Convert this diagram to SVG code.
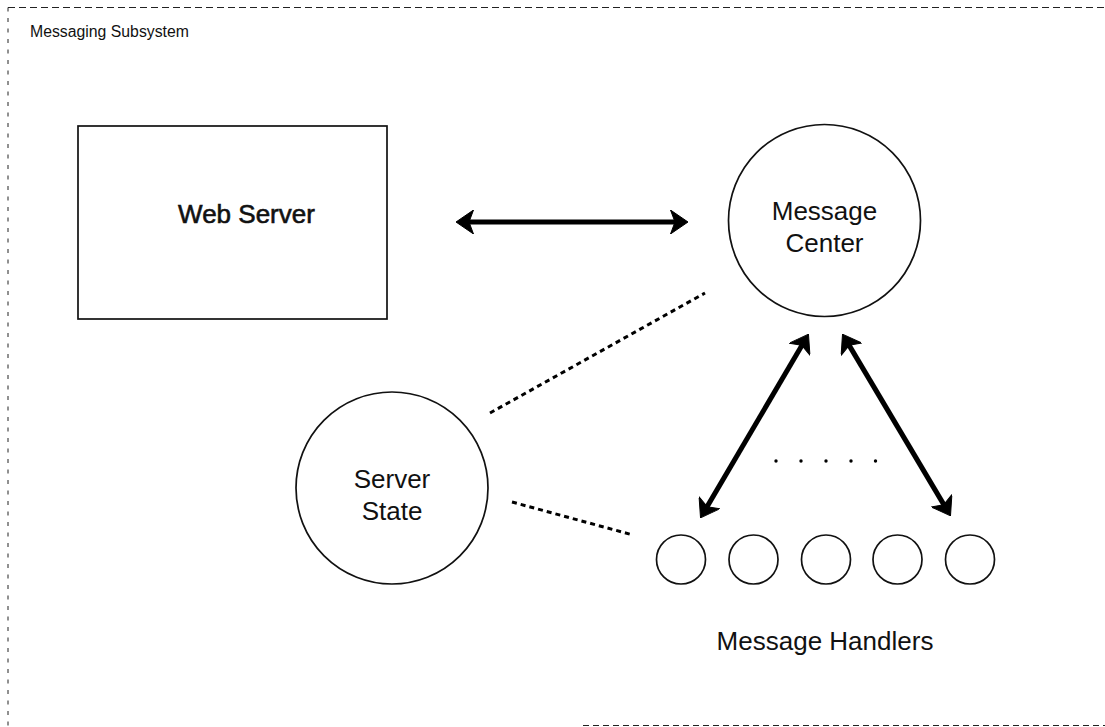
<svg xmlns="http://www.w3.org/2000/svg" width="1105" height="727" viewBox="0 0 1105 727">
  <style>
    text { font-family: "Liberation Sans", Arial, Helvetica, sans-serif; fill: #111; }
    .label { font-size: 26px; text-anchor: middle; }
    .heavy { stroke: #111; stroke-width: 0.6; }
    .node { fill: #fff; stroke: #111; stroke-width: 1.7; }
    .link { stroke: #000; stroke-width: 5; fill: none; marker-start: url(#head); marker-end: url(#head); }
    .assoc { stroke: #000; stroke-width: 3; stroke-dasharray: 5 4; fill: none; }
    .frame { stroke: #222; stroke-width: 1; fill: none; }
  </style>
  <defs>
    <marker id="head" viewBox="0 0 19 24" refX="10" refY="12" markerWidth="19" markerHeight="24" markerUnits="userSpaceOnUse" orient="auto-start-reverse">
      <path d="M19,12 L1.5,0 L6,12 L1.5,24 Z" fill="#000" stroke="#000" stroke-width="1" stroke-linejoin="round"/>
    </marker>
  </defs>

  <rect width="1105" height="727" fill="#fff"/>

  <!-- subsystem boundary -->
  <g id="subsystem">
    <line class="frame" x1="8" y1="7.5" x2="1105" y2="7.5" stroke-dasharray="7 4"/>
    <line class="frame" x1="8" y1="7.5" x2="8" y2="727" stroke-dasharray="4 6.5"/>
    <line class="frame" x1="583" y1="725.5" x2="1105" y2="725.5" stroke="#888" stroke-dasharray="6 4"/>
    <text x="30" y="37" font-size="15.8">Messaging Subsystem</text>
  </g>

  <!-- connectors -->
  <g id="connectors">
    <line class="link" x1="465" y1="222" x2="679" y2="222"/>
    <line class="link" x1="803.9" y1="341.9" x2="705.1" y2="510.1"/>
    <line class="link" x1="847.1" y1="341.9" x2="945.9" y2="508.1"/>
    <line class="assoc" x1="490" y1="413" x2="705" y2="293"/>
    <line class="assoc" x1="512" y1="502" x2="633" y2="535"/>
    <g id="ellipsis" fill="#000">
      <circle cx="776" cy="461" r="1.7"/>
      <circle cx="801" cy="461" r="1.7"/>
      <circle cx="826" cy="461" r="1.7"/>
      <circle cx="851" cy="461" r="1.7"/>
      <circle cx="875.5" cy="461" r="1.7"/>
    </g>
  </g>

  <g id="web-server">
    <rect class="node" x="78" y="126" width="309" height="193"/>
    <text class="label heavy" x="246.5" y="223" font-size="26.5">Web Server</text>
  </g>

  <g id="message-center">
    <circle class="node" cx="824.5" cy="220.5" r="96"/>
    <text class="label" x="824.5" y="220">Message</text>
    <text class="label" x="824.5" y="252">Center</text>
  </g>

  <g id="server-state">
    <circle class="node" cx="392" cy="488" r="96"/>
    <text class="label" x="392" y="488">Server</text>
    <text class="label" x="392" y="519.5">State</text>
  </g>

  <g id="message-handlers">
    <circle class="node" cx="681" cy="559.5" r="24.5"/>
    <circle class="node" cx="753.5" cy="559.5" r="24.5"/>
    <circle class="node" cx="826" cy="559.5" r="24.5"/>
    <circle class="node" cx="897.5" cy="559.5" r="24.5"/>
    <circle class="node" cx="970" cy="559.5" r="24.5"/>
    <text class="label" x="825" y="650" font-size="26.5">Message Handlers</text>
  </g>
</svg>
